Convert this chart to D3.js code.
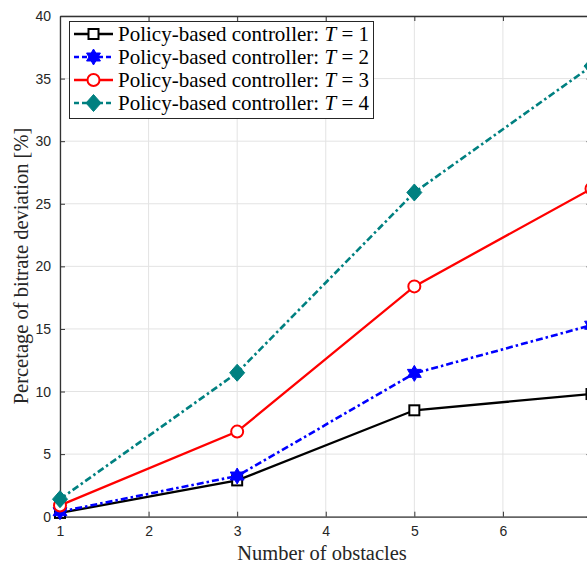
<!DOCTYPE html>
<html>
<head>
<meta charset="utf-8">
<script src="https://cdn.jsdelivr.net/npm/d3@7"></script>
<style>
  body { margin: 0; background: #fff; }
  svg { display: block; }
</style>
</head>
<body>
<div id="chart"></div>
<script>
// Data
var obstacles   = [ 1, 3, 5, 7 ];
var devT1       = [ 0.3, 2.9, 8.5, 9.8 ];
var devT2       = [ 0.4, 3.25, 11.45, 15.3 ];
var devT3       = [ 0.9, 6.8, 18.4, 26.2 ];
var devT4       = [ 1.4, 11.5, 25.9, 36.0 ];
var tValues     = [ 1, 2, 3, 4 ];
var xTicks      = [ 1, 2, 3, 4, 5, 6, 7 ];
var yTicks      = [ 0, 5, 10, 15, 20, 25, 30, 35, 40 ];

var chart_width  = 587;
var chart_height = 564;
var m_left = 60, m_right = 591.5, m_top = 16, m_bottom = 516.7;

var x = d3.scaleLinear().domain( [ 1, 7 ] ).range( [ m_left, m_right ] );
var y = d3.scaleLinear().domain( [ 0, 40 ] ).range( [ m_bottom, m_top ] );

var series = [
  { t: tValues[0], values: devT1, color: "#000000", dash: null,          marker: "square" },
  { t: tValues[1], values: devT2, color: "#0000ff", dash: "7,3,2.5,3",   marker: "hexagram" },
  { t: tValues[2], values: devT3, color: "#ff0000", dash: null,          marker: "circle" },
  { t: tValues[3], values: devT4, color: "#008080", dash: "7,3,2.5,3",   marker: "diamond" }
];

var svg = d3.select( "#chart" )
  .append( "svg" )
  .attr( "width", chart_width )
  .attr( "height", chart_height );

// Grid
svg.append( "g" ).selectAll( "line" )
  .data( xTicks ).enter().append( "line" )
  .attr( "x1", d => x(d) ).attr( "x2", d => x(d) )
  .attr( "y1", m_top ).attr( "y2", m_bottom )
  .attr( "stroke", "#e3e3e3" ).attr( "stroke-width", 1 );
svg.append( "g" ).selectAll( "line" )
  .data( yTicks ).enter().append( "line" )
  .attr( "y1", d => y(d) ).attr( "y2", d => y(d) )
  .attr( "x1", m_left ).attr( "x2", m_right )
  .attr( "stroke", "#e3e3e3" ).attr( "stroke-width", 1 );

// Axes (MATLAB style: inward ticks, box)
var axisColor = "#333333";
var fmt = d3.format( "d" );
var xAxis = svg.append( "g" )
  .attr( "transform", "translate(0," + m_bottom + ")" )
  .call( d3.axisBottom( x ).tickValues( xTicks.slice( 0, 6 ) ).tickFormat( fmt ).tickSizeInner( -5 ).tickSizeOuter( 0 ).tickPadding( 9 ) );
var yAxis = svg.append( "g" )
  .attr( "transform", "translate(" + m_left + ",0)" )
  .call( d3.axisLeft( y ).tickValues( yTicks ).tickFormat( fmt ).tickSizeInner( -5 ).tickSizeOuter( 0 ).tickPadding( 9 ) );
var xTop = svg.append( "g" )
  .attr( "transform", "translate(0," + m_top + ")" )
  .call( d3.axisTop( x ).tickValues( xTicks ).tickSizeInner( -5 ).tickSizeOuter( 0 ).tickFormat( "" ) );
var yRight = svg.append( "g" )
  .attr( "transform", "translate(" + m_right + ",0)" )
  .call( d3.axisRight( y ).tickValues( yTicks ).tickSizeInner( -5 ).tickSizeOuter( 0 ).tickFormat( "" ) );

[ xAxis, yAxis, xTop, yRight ].forEach( function( g ) {
  g.select( ".domain" ).attr( "stroke", axisColor ).attr( "stroke-width", 1.3 );
  g.selectAll( ".tick line" ).attr( "stroke", axisColor ).attr( "stroke-width", 1 );
  g.selectAll( "text" )
    .attr( "fill", "#262626" )
    .style( "font-family", "'Liberation Sans', Arial, sans-serif" )
    .style( "font-size", "14px" );
});

// Markers
function hexagram( r ) {
  var ri = r / Math.sqrt( 3 ), pts = [];
  for ( var i = 0; i < 12; i++ ) {
    var a = -Math.PI / 2 + i * Math.PI / 6;
    var rr = i % 2 === 0 ? r : ri;
    pts.push( [ rr * Math.cos( a ), rr * Math.sin( a ) ] );
  }
  return "M" + pts.join( "L" ) + "Z";
}

function drawMarker( g, type, color ) {
  if ( type === "square" ) {
    g.append( "rect" ).attr( "x", -5 ).attr( "y", -5 ).attr( "width", 10 ).attr( "height", 10 )
      .attr( "fill", "#fff" ).attr( "stroke", color ).attr( "stroke-width", 2 );
  } else if ( type === "circle" ) {
    g.append( "circle" ).attr( "r", 6 )
      .attr( "fill", "#fff" ).attr( "stroke", color ).attr( "stroke-width", 2 );
  } else if ( type === "hexagram" ) {
    g.append( "path" ).attr( "d", hexagram( 8 ) )
      .attr( "fill", color ).attr( "stroke", color ).attr( "stroke-width", 1 );
  } else if ( type === "diamond" ) {
    g.append( "path" ).attr( "d", "M0,-8.5L7.5,0L0,8.5L-7.5,0Z" )
      .attr( "fill", color ).attr( "stroke", color ).attr( "stroke-width", 1 );
  }
}

// Lines
var line = d3.line()
  .x( (d, i) => x( obstacles[i] ) )
  .y( d => y( d ) );

series.forEach( function( s ) {
  svg.append( "path" )
    .datum( s.values )
    .attr( "d", line )
    .attr( "fill", "none" )
    .attr( "stroke", s.color )
    .attr( "stroke-width", s.dash ? 2.6 : 2.3 )
    .attr( "stroke-dasharray", s.dash );
  s.values.forEach( function( v, i ) {
    var g = svg.append( "g" ).attr( "transform", "translate(" + x( obstacles[i] ) + "," + y( v ) + ")" );
    drawMarker( g, s.marker, s.color );
  });
});

// Legend
var legend = svg.append( "g" );
legend.append( "rect" )
  .attr( "x", 69.5 ).attr( "y", 21.5 ).attr( "width", 304 ).attr( "height", 97 )
  .attr( "fill", "#fff" ).attr( "stroke", "#262626" ).attr( "stroke-width", 1 );

series.forEach( function( s, i ) {
  var cy = 34 + i * 23;
  var row = legend.append( "g" );
  row.append( "line" )
    .attr( "x1", 74 ).attr( "x2", 113 ).attr( "y1", cy ).attr( "y2", cy )
    .attr( "stroke", s.color ).attr( "stroke-width", 2.4 )
    .attr( "stroke-dasharray", s.dash ? "5,3" : null );
  drawMarker( row.append( "g" ).attr( "transform", "translate(93.5," + cy + ")" ), s.marker, s.color );
  var txt = row.append( "text" )
    .attr( "x", 118 ).attr( "y", cy + 7 )
    .style( "font-family", "'Liberation Serif', 'Times New Roman', serif" )
    .style( "font-size", "21px" )
    .attr( "fill", "#000" );
  txt.append( "tspan" ).text( "Policy-based controller: " );
  txt.append( "tspan" ).style( "font-style", "italic" ).text( "T" );
  txt.append( "tspan" ).text( " = " + s.t );
});

// Axis labels
svg.append( "text" )
  .attr( "x", 322 ).attr( "y", 560 )
  .attr( "text-anchor", "middle" )
  .style( "font-family", "'Liberation Serif', 'Times New Roman', serif" )
  .style( "font-size", "20.5px" )
  .attr( "fill", "#262626" )
  .text( "Number of obstacles" );

svg.append( "text" )
  .attr( "transform", "translate(28,266) rotate(-90)" )
  .attr( "text-anchor", "middle" )
  .style( "font-family", "'Liberation Serif', 'Times New Roman', serif" )
  .style( "font-size", "20.5px" )
  .attr( "fill", "#262626" )
  .text( "Percetage of bitrate deviation [%]" );
</script>
</body>
</html>
